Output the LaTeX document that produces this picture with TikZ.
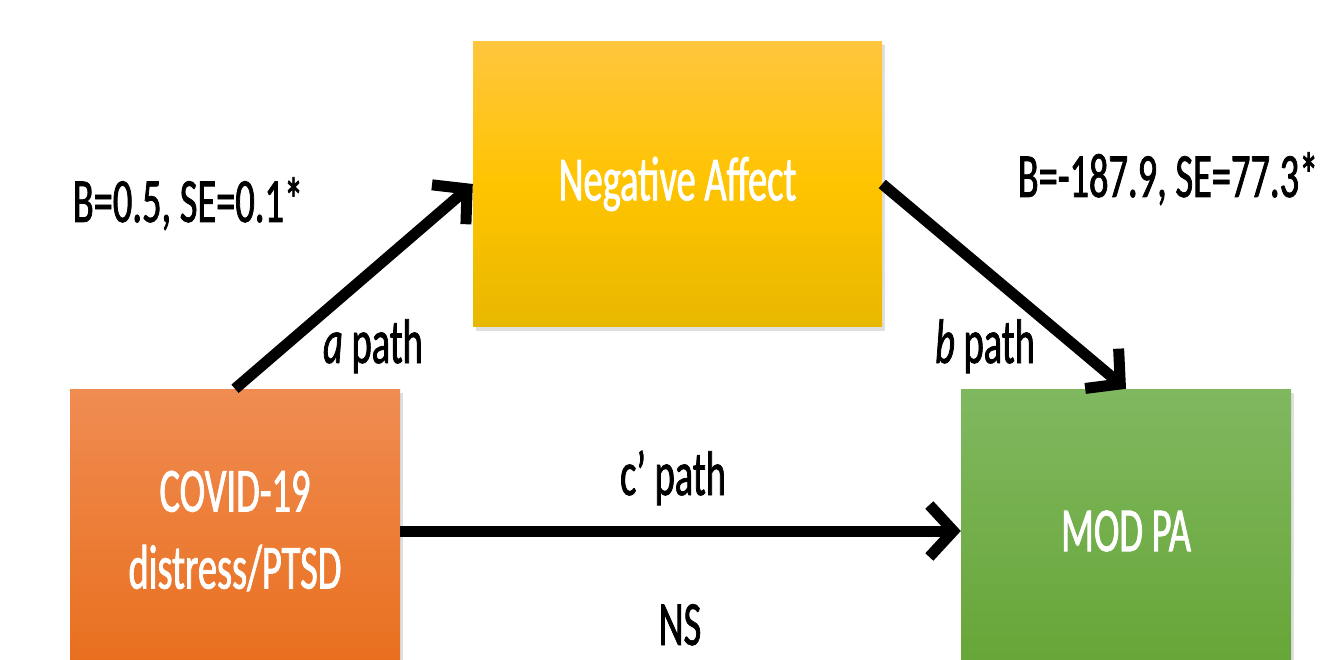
\documentclass[tikz,border=0pt]{standalone}
\usepackage{fontspec}
\setmainfont{Carlito}[FakeStretch=0.61,FakeBold=1.2]
\usetikzlibrary{arrows.meta,shadows}
\definecolor{orTop}{RGB}{240,140,82}
\definecolor{orBot}{RGB}{232,110,28}
\definecolor{yeTop}{RGB}{255,198,62}
\definecolor{yeBot}{RGB}{232,184,0}
\definecolor{grTop}{RGB}{128,184,96}
\definecolor{grBot}{RGB}{102,165,54}
\begin{document}
\begin{tikzpicture}[x=1pt,y=-1pt,
  box/.style={rectangle, inner sep=0pt, text=white, align=center,
    font=\fontsize{63}{77}\selectfont,
    drop shadow={shadow xshift=3pt, shadow yshift=-4pt, opacity=0.25}},
  lbl/.style={font=\fontsize{63}{77}\selectfont, anchor=base, inner sep=0pt},
  conn/.style={line width=11pt, -{Straight Barb[length=24pt,width=52pt]}}]
\useasboundingbox (0,0) rectangle (1335,660);
\clip (0,0) rectangle (1335,660);
\fill[white] (0,0) rectangle (1335,660);
\node[box, minimum width=330pt, minimum height=284pt, top color=orTop, bottom color=orBot] (dist) at (235,531) {COVID-19\\distress/PTSD};
\node[box, minimum width=409pt, minimum height=285pt, top color=yeTop, bottom color=yeBot, middle color={rgb,255:red,255;green,196;blue,0}] (neg) at (677.5,184) {Negative Affect};
\node[box, minimum width=330pt, minimum height=284pt, top color=grTop, bottom color=grBot] (mod) at (1126,531) {MOD PA};
\draw[conn] (dist.north) -- (neg.west);
\draw[conn] (neg.east) -- (mod.north);
\draw[conn] (dist.east) -- (mod.west);
\node[lbl] (la) at (188,222) {B=0.5, SE=0.1*};
\node[lbl] (pa) at (373,363) {\textit{a} path};
\node[lbl] (lb) at (1168,197) {B=-187.9, SE=77.3*};
\node[lbl] (pb) at (985,363) {\textit{b} path};
\node[lbl] (pc) at (673,495) {c’ path};
\node[lbl] (ns) at (680,645) {NS};
\end{tikzpicture}
\end{document}
